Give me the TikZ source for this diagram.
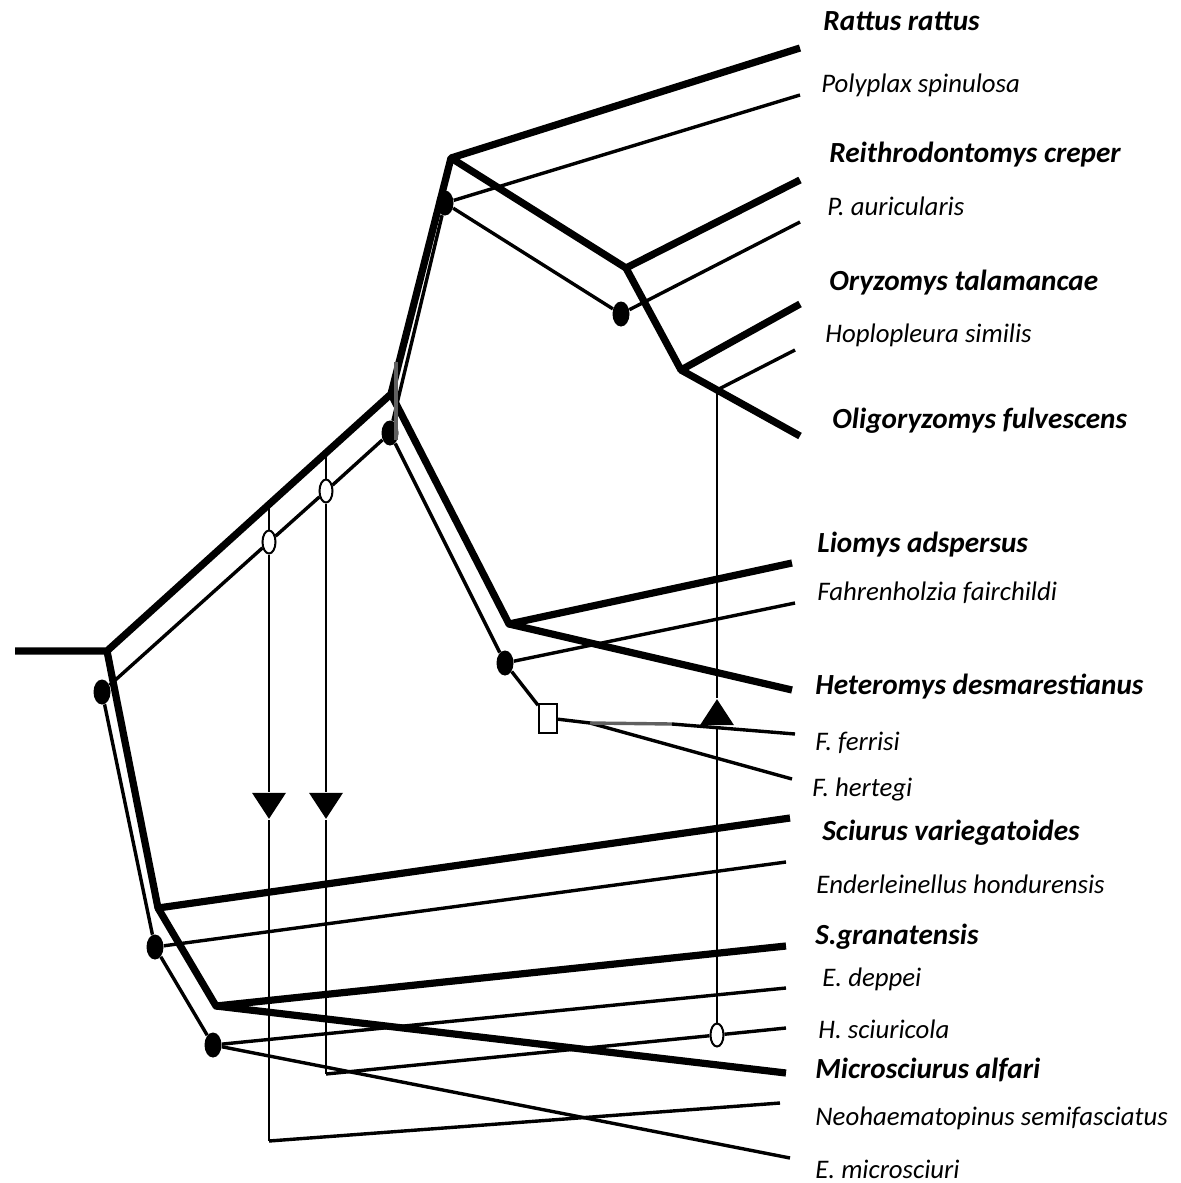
\documentclass[tikz,border=0pt]{standalone}
\usepackage{fontspec}
\setmainfont{Carlito}
\usetikzlibrary{shapes.geometric}

\tikzset{
	host/.style={line width=3.6pt, line join=round},
	para/.style={line width=1.7pt, line join=round},
	switchline/.style={line width=1.1pt},
	cosp/.style={ellipse, fill=black, inner sep=0pt, minimum width=8.5pt, minimum height=12.5pt},
	dup/.style={ellipse, draw, fill=white, line width=1pt, inner sep=0pt, minimum width=6.5pt, minimum height=11.5pt},
	sortbox/.style={rectangle, draw, fill=white, line width=1pt, inner sep=0pt, minimum width=9pt, minimum height=14.5pt},
	tri/.style={isosceles triangle, isosceles triangle stretches, fill=black, inner sep=0pt, minimum width=17pt, minimum height=13pt},
	hostname/.style={anchor=base west, inner sep=0pt, font=\fontsize{14.6}{16}\selectfont\bfseries\itshape},
	paraname/.style={anchor=base west, inner sep=0pt, font=\fontsize{13.4}{15}\selectfont\itshape},
}

\begin{document}
\begin{tikzpicture}[x=0.5pt, y=-0.5pt]
	\useasboundingbox (0,0) rectangle (1180,1183);

	%host vertices
	\coordinate (h0) at (15,651);
	\coordinate (hr) at (107,651);
	\coordinate (ha) at (391,394);
	\coordinate (hc) at (451,158);
	\coordinate (he) at (626,268);
	\coordinate (hf) at (681,370);
	\coordinate (hd) at (509,624);
	\coordinate (hb) at (158,908);
	\coordinate (hg) at (216,1006);

	%host tips
	\coordinate (tRr) at (800,48);
	\coordinate (tRc) at (800,180);
	\coordinate (tOt) at (800,304);
	\coordinate (tOf) at (800,436);
	\coordinate (tLa) at (792,563);
	\coordinate (tHd) at (792,690);
	\coordinate (tSv) at (790,818);
	\coordinate (tSg) at (786,946);
	\coordinate (tMa) at (786,1073);

	%host edges
	\draw[host] (h0) -- (hr) -- (ha) -- (hc) -- (tRr);
	\draw[host] (hc) -- (he) -- (tRc);
	\draw[host] (he) -- (hf) -- (tOt);
	\draw[host] (hf) -- (tOf);
	\draw[host] (ha) -- (hd) -- (tLa);
	\draw[host] (hd) -- (tHd);
	\draw[host] (hr) -- (hb) -- (tSv);
	\draw[host] (hb) -- (hg) -- (tSg);
	\draw[host] (hg) -- (tMa);

	%parasite vertices
	\node[cosp] (pr) at (102,692) {};
	\node[cosp] (pa) at (390,433) {};
	\node[cosp] (pc) at (445,203) {};
	\node[cosp] (pe) at (621,314) {};
	\node[cosp] (pd) at (505,663) {};
	\node[sortbox] (ps) at (548,718) {};
	\coordinate (pf) at (590,723);
	\coordinate (pk) at (672,724);
	\node[cosp] (pb) at (155,947) {};
	\node[cosp] (pg) at (213,1045) {};

	%duplications and switches
	\node[dup] (dup1) at (269,542) {};
	\node[dup] (dup2) at (326,491) {};
	\node[dup] (dup3) at (717,1035) {};
	\node[tri, rotate=-90] (tri1) at (269,802) {};
	\node[tri, rotate=-90] (tri2) at (326,802) {};
	\node[tri, rotate=90] (tri3) at (717,716) {};
	\coordinate (v1top) at (269,504);
	\coordinate (v2top) at (326,453);
	\coordinate (v3top) at (717,390);
	\coordinate (v1bot) at (269,1141);
	\coordinate (v2bot) at (326,1074);

	%parasite tips
	\coordinate (tPs) at (800,95);
	\coordinate (tPa) at (800,222);
	\coordinate (tHs) at (795,350);
	\coordinate (tFf) at (795,603);
	\coordinate (tFr) at (795,734);
	\coordinate (tFh) at (792,779);
	\coordinate (tEh) at (786,862);
	\coordinate (tEd) at (786,988);
	\coordinate (tHsc) at (786,1028);
	\coordinate (tNs) at (780,1103);
	\coordinate (tEm) at (790,1158);

	%parasite edges
	\draw[para] (pr) -- (dup1);
	\draw[para] (dup1) -- (dup2);
	\draw[para] (dup2) -- (pa);
	\draw[para] (pa) -- (pc);
	\draw[para] (pc) -- (tPs);
	\draw[para] (pc) -- (pe);
	\draw[para] (pe) -- (tPa);
	\draw[para] (pa) -- (pd);
	\draw[para] (pd) -- (tFf);
	\draw[para] (pd) -- (ps);
	\draw[para] (ps) -- (pf) -- (tFh);
	\draw[para, gray!75!black] (pf) -- (pk);
	\draw[para] (pk) -- (tFr);
	\draw[para] (pr) -- (pb);
	\draw[para] (pb) -- (tEh);
	\draw[para] (pb) -- (pg);
	\draw[para] (pg) -- (tEd);
	\draw[para] (pg) -- (tEm);
	\draw[para] (v1bot) -- (tNs);
	\draw[para] (v2bot) -- (dup3);
	\draw[para] (dup3) -- (tHsc);
	\draw[para] (v3top) -- (tHs);

	%host switches
	\draw[switchline] (v1top) -- (dup1);
	\draw[switchline] (dup1) -- (tri1);
	\draw[switchline] (tri1) -- (v1bot);
	\draw[switchline] (v2top) -- (dup2);
	\draw[switchline] (dup2) -- (tri2);
	\draw[switchline] (tri2) -- (v2bot);
	\draw[switchline] (dup3) -- (tri3);
	\draw[switchline] (tri3) -- (v3top);
	\draw[line width=2.4pt, gray!75!black] (396,362) -- (396,440);

	%names
	\node[hostname] (lRr) at (823,31) {Rattus rattus};
	\node[paraname] (lPs) at (821,92) {Polyplax spinulosa};
	\node[hostname] (lRc) at (829,162) {Reithrodontomys creper};
	\node[paraname] (lPa) at (827,215) {P. auricularis};
	\node[hostname] (lOt) at (829,290) {Oryzomys talamancae};
	\node[paraname] (lHs) at (825,342) {Hoplopleura similis};
	\node[hostname] (lOf) at (832,428) {Oligoryzomys fulvescens};
	\node[hostname] (lLa) at (817,552) {Liomys adspersus};
	\node[paraname] (lFf) at (817,600) {Fahrenholzia fairchildi};
	\node[hostname] (lHd) at (815,694) {Heteromys desmarestianus};
	\node[paraname] (lFr) at (815,750) {F. ferrisi};
	\node[paraname] (lFh) at (812,796) {F. hertegi};
	\node[hostname] (lSv) at (822,840) {Sciurus variegatoides};
	\node[paraname] (lEh) at (816,893) {Enderleinellus hondurensis};
	\node[hostname] (lSg) at (815,944) {S.granatensis};
	\node[paraname] (lEd) at (822,986) {E. deppei};
	\node[paraname] (lHsc) at (818,1038) {H. sciuricola};
	\node[hostname] (lMa) at (815,1078) {Microsciurus alfari};
	\node[paraname] (lNs) at (815,1125) {Neohaematopinus semifasciatus};
	\node[paraname] (lEm) at (815,1178) {E. microsciuri};
\end{tikzpicture}
\end{document}
